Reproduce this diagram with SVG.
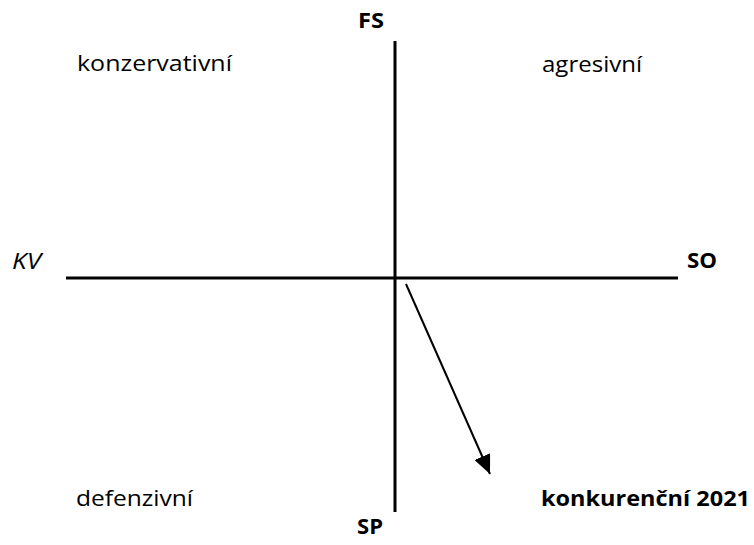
<svg xmlns="http://www.w3.org/2000/svg" width="754" height="545" viewBox="0 0 754 545">
<style>
text{font-family:"Open Sans","Liberation Sans",sans-serif;font-size:21px;fill:#000}
.b{font-weight:bold}
.i{font-style:italic}
.ax{stroke:#000;stroke-width:3;fill:none}
</style>
<defs>
<marker id="ah2" markerWidth="19" markerHeight="17" refX="19" refY="8.5" orient="auto" markerUnits="userSpaceOnUse">
<path d="M0,0 L19,8.5 L0,17 Z" fill="#000"/>
</marker>
</defs>
<g id="connectors">
<line class="ax" x1="395" y1="41" x2="395" y2="512"/>
<line class="ax" x1="66" y1="278" x2="678" y2="278"/>
<line x1="406" y1="284" x2="490" y2="474" stroke="#000" stroke-width="2" marker-end="url(#ah2)"/>
</g>
<g id="labels">
<text id="FS" class="b" x="358" y="28" textLength="26" lengthAdjust="spacingAndGlyphs">FS</text>
<text id="SP" class="b" x="357" y="534" textLength="26" lengthAdjust="spacingAndGlyphs">SP</text>
<text id="KV" class="i" x="12" y="269" textLength="29" lengthAdjust="spacingAndGlyphs">KV</text>
<text id="SO" class="b" x="687" y="268" textLength="30" lengthAdjust="spacingAndGlyphs">SO</text>
</g>
<g id="quadrants">
<text id="konzervativni" x="77" y="71" textLength="155" lengthAdjust="spacingAndGlyphs">konzervativní</text>
<text id="agresivni" x="542" y="72" textLength="100" lengthAdjust="spacingAndGlyphs">agresivní</text>
<text id="defenzivni" x="76" y="506" textLength="117" lengthAdjust="spacingAndGlyphs">defenzivní</text>
<text id="konkurencni" class="b" x="541" y="506" textLength="209" lengthAdjust="spacingAndGlyphs">konkurenční 2021</text>
</g>
</svg>
